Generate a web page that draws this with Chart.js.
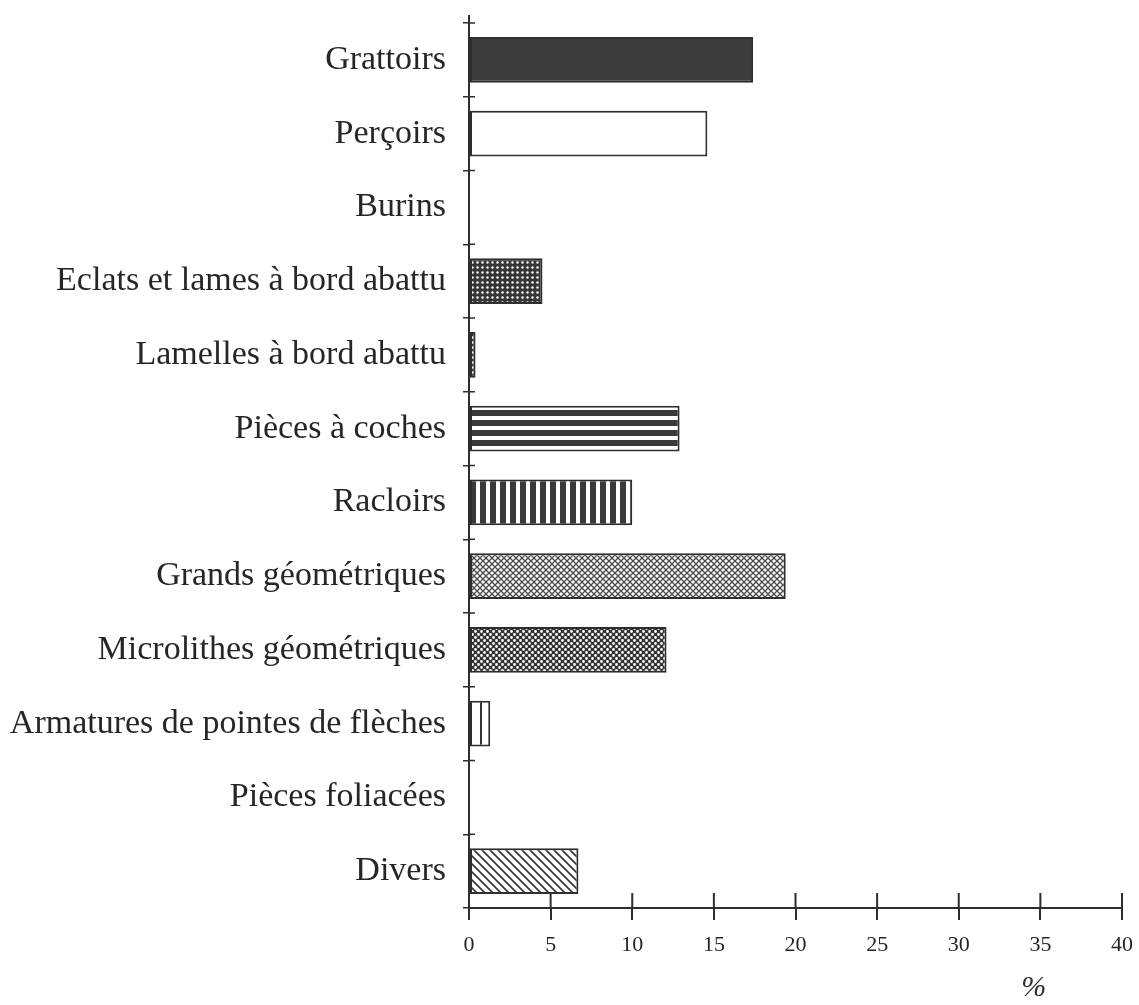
<!DOCTYPE html>
<html>
<head>
<meta charset="utf-8">
<script src="https://cdn.jsdelivr.net/npm/chart.js@4.4.1/dist/chart.umd.min.js"></script>
<style>
  html, body { margin: 0; padding: 0; background: #fff; }
  #wrap { width: 1139px; height: 1005px; }
</style>
</head>
<body>
<div id="wrap"><canvas id="chart" width="1139" height="1005"></canvas></div>
<script>
// Catégories d'outils et pourcentages
const categories = [
  'Grattoirs',
  'Perçoirs',
  'Burins',
  'Eclats et lames à bord abattu',
  'Lamelles à bord abattu',
  'Pièces à coches',
  'Racloirs',
  'Grands géométriques',
  'Microlithes géométriques',
  'Armatures de pointes de flèches',
  'Pièces foliacées',
  'Divers'
];
const percents = [17.4, 14.6, 0, 4.5, 0.4, 12.9, 10.0, 19.4, 12.1, 1.3, 0, 6.7];
const xTicks = [0, 5, 10, 15, 20, 25, 30, 35, 40];
const patternKeys = ['solid', 'white', 'fineDots', 'fineDots', 'fineDots', 'hStripes',
  'vStripes', 'crossHatch', 'bigDots', 'sparseLines', 'white', 'diagonal'];

const INK = '#2e2e2e';

// Petites fonctions pour fabriquer les trames
function makePattern(w, h, draw) {
  const c = document.createElement('canvas');
  c.width = w; c.height = h;
  const ctx = c.getContext('2d');
  draw(ctx, w, h);
  return ctx.createPattern(c, 'repeat');
}

const patterns = {
  solid: '#3d3d3d',
  white: '#ffffff',
  fineDots: makePattern(5, 5, (ctx, w, h) => {
    ctx.fillStyle = '#363636';
    ctx.fillRect(0, 0, w, h);
    ctx.fillStyle = '#ffffff';
    ctx.beginPath();
    ctx.arc(2.5, 2.5, 1.2, 0, Math.PI * 2);
    ctx.fill();
  }),
  hStripes: makePattern(4, 10, (ctx, w, h) => {
    ctx.fillStyle = '#ffffff';
    ctx.fillRect(0, 0, w, h);
    ctx.fillStyle = '#3a3a3a';
    ctx.fillRect(0, 0, w, 6);
  }),
  vStripes: makePattern(10, 4, (ctx, w, h) => {
    ctx.fillStyle = '#ffffff';
    ctx.fillRect(0, 0, w, h);
    ctx.fillStyle = '#3a3a3a';
    ctx.fillRect(0, 0, 6, h);
  }),
  crossHatch: makePattern(6, 6, (ctx, w, h) => {
    ctx.fillStyle = '#ffffff';
    ctx.fillRect(0, 0, w, h);
    ctx.strokeStyle = '#4a4a4a';
    ctx.lineWidth = 1.3;
    ctx.beginPath();
    ctx.moveTo(0, 0); ctx.lineTo(w, h);
    ctx.moveTo(w, 0); ctx.lineTo(0, h);
    ctx.stroke();
  }),
  bigDots: makePattern(6, 6, (ctx, w, h) => {
    ctx.fillStyle = '#333333';
    ctx.fillRect(0, 0, w, h);
    ctx.fillStyle = '#ffffff';
    ctx.beginPath();
    ctx.arc(1.5, 1.5, 1.4, 0, Math.PI * 2);
    ctx.arc(4.5, 4.5, 1.4, 0, Math.PI * 2);
    ctx.fill();
  }),
  sparseLines: makePattern(10, 4, (ctx, w, h) => {
    ctx.fillStyle = '#ffffff';
    ctx.fillRect(0, 0, w, h);
    ctx.fillStyle = '#333333';
    ctx.fillRect(0, 0, 2, h);
  }),
  diagonal: makePattern(8, 8, (ctx, w, h) => {
    ctx.fillStyle = '#ffffff';
    ctx.fillRect(0, 0, w, h);
    ctx.strokeStyle = '#333333';
    ctx.lineWidth = 1.6;
    ctx.beginPath();
    ctx.moveTo(-2, -2); ctx.lineTo(w + 2, h + 2);
    ctx.moveTo(-2, h - 2); ctx.lineTo(2, h + 2);
    ctx.moveTo(w - 2, -2); ctx.lineTo(w + 2, 2);
    ctx.stroke();
  })
};

// Petits traits de graduation qui traversent les axes + le symbole %
const axisMarks = {
  id: 'axisMarks',
  afterDraw(chart) {
    const { ctx, chartArea, scales } = chart;
    const x = scales.x, y = scales.y;
    ctx.save();
    ctx.strokeStyle = INK;
    ctx.lineWidth = 2;
    ctx.beginPath();
    x.ticks.forEach(t => {
      const px = x.getPixelForValue(t.value);
      ctx.moveTo(px, chartArea.bottom);
      ctx.lineTo(px, chartArea.bottom - 15);
    });
    // prolongement de l'axe vertical
    ctx.moveTo(chartArea.left, chartArea.top);
    ctx.lineTo(chartArea.left, chartArea.top - 8);
    ctx.stroke();
    ctx.lineWidth = 1.5;
    ctx.beginPath();
    const step = (chartArea.bottom - chartArea.top) / categories.length;
    for (let i = 0; i < categories.length; i++) {
      const py = y.getPixelForValue(i) - step / 2;
      ctx.moveTo(chartArea.left, py);
      ctx.lineTo(chartArea.left + 6, py);
    }
    ctx.stroke();

    ctx.fillStyle = INK;
    ctx.font = 'italic 30px "Liberation Serif", serif';
    ctx.textAlign = 'center';
    ctx.textBaseline = 'middle';
    ctx.fillText('%', x.getPixelForValue(34.6), chartArea.bottom + 80);
    ctx.restore();
  }
};

new Chart(document.getElementById('chart'), {
  type: 'bar',
  data: {
    labels: categories,
    datasets: [{
      data: percents,
      backgroundColor: patternKeys.map(k => patterns[k]),
      borderColor: INK,
      borderWidth: 2,
      borderSkipped: false,
      barPercentage: 0.62,
      categoryPercentage: 1
    }]
  },
  options: {
    indexAxis: 'y',
    responsive: false,
    animation: false,
    layout: { padding: { top: 23, right: 17, left: 0, bottom: 0 } },
    plugins: {
      legend: { display: false },
      tooltip: { enabled: false }
    },
    scales: {
      y: {
        type: 'category',
        offset: true,
        afterFit(scale) {
          scale.width = 469;
          scale.paddingTop = 0;
          scale.paddingBottom = 0;
        },
        grid: {
          offset: true,
          drawOnChartArea: false,
          tickLength: 6,
          color: INK,
          lineWidth: 1.5
        },
        border: { display: true, color: INK, width: 2 },
        ticks: {
          color: '#262626',
          padding: 17,
          autoSkip: false,
          font: { family: '"Liberation Serif", serif', size: 34 }
        }
      },
      x: {
        min: 0,
        max: 40,
        afterFit(scale) {
          scale.height = 97;
          scale.paddingLeft = 0;
          scale.paddingRight = 0;
        },
        afterBuildTicks(scale) { scale.ticks = xTicks.map(v => ({ value: v })); },
        grid: {
          drawOnChartArea: false,
          tickLength: 12,
          color: INK,
          lineWidth: 2
        },
        border: { display: true, color: INK, width: 2 },
        ticks: {
          color: '#262626',
          padding: 12,
          maxRotation: 0,
          font: { family: '"Liberation Serif", serif', size: 22 }
        }
      }
    }
  },
  plugins: [axisMarks]
});
</script>
</body>
</html>
